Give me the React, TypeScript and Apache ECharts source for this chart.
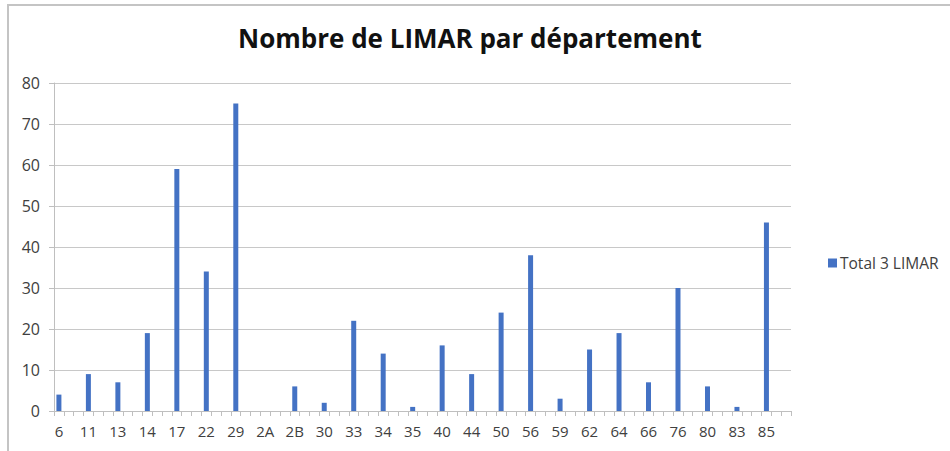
import React, { useEffect, useRef } from "react";
import * as echarts from "echarts";

const departments = ["6", "11", "13", "14", "17", "22", "29", "2A", "2B", "30", "33", "34", "35", "40", "44", "50", "56", "59", "62", "64", "66", "76", "80", "83", "85"];
const totals = [4, 9, 7, 19, 59, 34, 75, 0, 6, 2, 22, 14, 1, 16, 9, 24, 38, 3, 15, 19, 7, 30, 6, 1, 46];
const yTicks = [0, 10, 20, 30, 40, 50, 60, 70, 80];
const seriesName = "Total 3 LIMAR";
const titleText = "Nombre de LIMAR par département";

export default function App() {
  const ref = useRef<HTMLDivElement>(null);
  useEffect(() => {
    if (!ref.current) return;
    const chart = echarts.init(ref.current, null, { renderer: "svg" });
    // each department occupies 3 slots on the category axis (as in the source sheet)
    const cats: string[] = [];
    const vals: (number | null)[] = [];
    departments.forEach((d, i) => {
      cats.push(d, "", "");
      vals.push(totals[i], null, null);
    });
    const font = "'Open Sans', 'Noto Sans', sans-serif";
    chart.setOption({
      animation: false,
      backgroundColor: "#ffffff",
      title: {
        text: titleText,
        left: 233,
        top: 20,
        textStyle: { fontFamily: font, fontSize: 26, fontWeight: "bold", color: "#111111" },
      },
      legend: {
        orient: "vertical",
        left: 823,
        top: 250,
        itemWidth: 9,
        itemHeight: 9,
        itemGap: 4,
        icon: "rect",
        textStyle: { fontFamily: font, fontSize: 15.5, color: "#404040", padding: [0, 0, 0, -2] },
        data: [seriesName],
      },
      grid: { left: 54, right: 159, top: 83, bottom: 40, containLabel: false },
      xAxis: {
        type: "category",
        data: cats,
        boundaryGap: true,
        axisLine: { show: true, lineStyle: { color: "#BFBFBF", width: 1 } },
        axisTick: { show: true, interval: 0, length: 5, lineStyle: { color: "#BFBFBF" } },
        axisLabel: { interval: 0, margin: 12, fontFamily: font, fontSize: 15, color: "#404040" },
        splitLine: { show: false },
      },
      yAxis: {
        type: "value",
        min: yTicks[0],
        max: yTicks[yTicks.length - 1],
        interval: 10,
        axisLine: { show: true, lineStyle: { color: "#BFBFBF", width: 1 } },
        axisTick: { show: true, length: 5, lineStyle: { color: "#BFBFBF" } },
        axisLabel: { margin: 14, fontFamily: font, fontSize: 16, color: "#404040" },
        splitLine: { show: true, lineStyle: { color: "#C8C8C8", width: 1 } },
      },
      series: [
        {
          name: seriesName,
          type: "bar",
          data: vals,
          barWidth: 5,
          itemStyle: { color: "#4472C4" },
        },
      ],
      graphic: [
        { type: "line", shape: { x1: 7, y1: 5, x2: 950, y2: 5 }, style: { stroke: "#C4C4C4", lineWidth: 2 } },
        { type: "line", shape: { x1: 8, y1: 5, x2: 8, y2: 451 }, style: { stroke: "#C4C4C4", lineWidth: 2 } },
      ],
    });
    return () => chart.dispose();
  }, []);
  return <div ref={ref} style={{ position: "fixed", left: 0, top: 0, width: 950, height: 451 }} />;
}
